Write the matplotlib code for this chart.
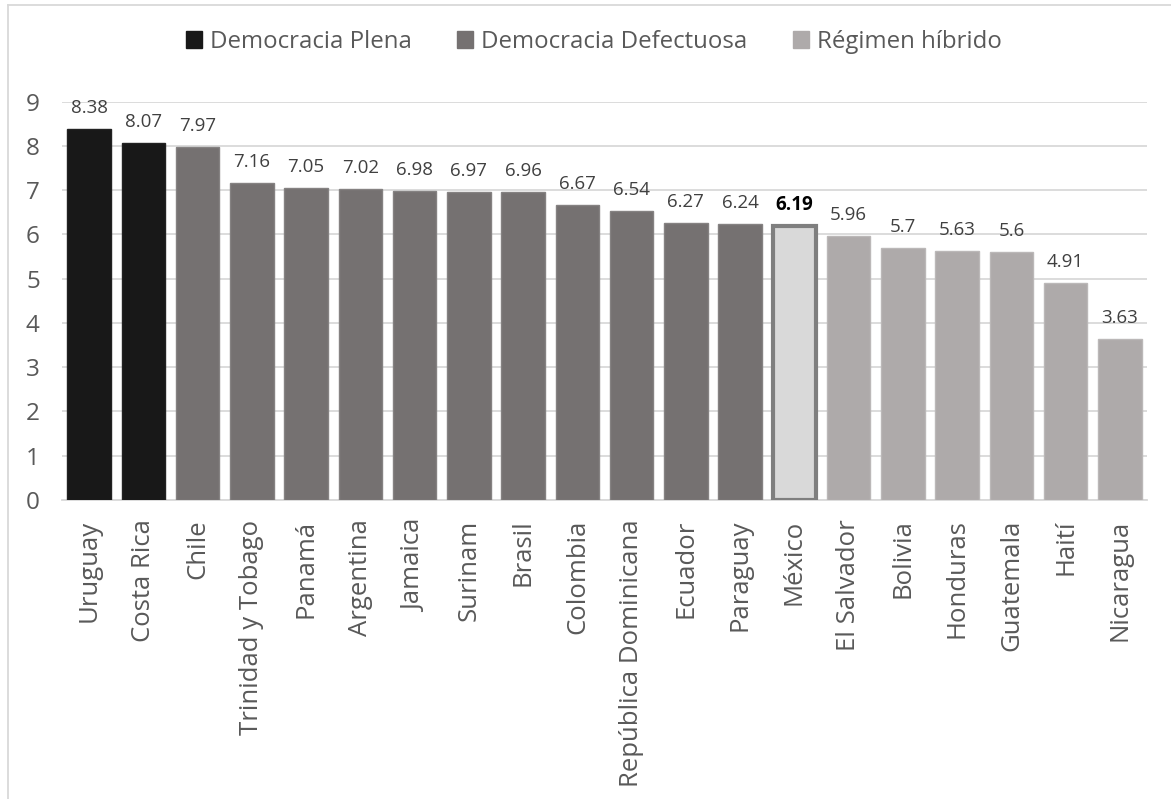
import matplotlib
matplotlib.use("Agg")
import matplotlib.pyplot as plt
import matplotlib.patches as mpatches
from matplotlib.lines import Line2D

plt.rcParams['font.family'] = ['Open Sans', 'DejaVu Sans']

countries = ["Uruguay", "Costa Rica", "Chile", "Trinidad y Tobago", "Panamá",
             "Argentina", "Jamaica", "Surinam", "Brasil", "Colombia",
             "República Dominicana", "Ecuador", "Paraguay", "México",
             "El Salvador", "Bolivia", "Honduras", "Guatemala", "Haití",
             "Nicaragua"]
scores = [8.38, 8.07, 7.97, 7.16, 7.05, 7.02, 6.98, 6.97, 6.96, 6.67,
          6.54, 6.27, 6.24, 6.19, 5.96, 5.7, 5.63, 5.6, 4.91, 3.63]
score_labels = ["8.38", "8.07", "7.97", "7.16", "7.05", "7.02", "6.98", "6.97",
                "6.96", "6.67", "6.54", "6.27", "6.24", "6.19", "5.96", "5.7",
                "5.63", "5.6", "4.91", "3.63"]
regime = ["plena"] * 2 + ["defectuosa"] * 12 + ["hibrido"] * 6
highlight = "México"
legend_labels = {"plena": "Democracia Plena",
                 "defectuosa": "Democracia Defectuosa",
                 "hibrido": "Régimen híbrido"}

fills = {"plena": "#181818", "defectuosa": "#757171", "hibrido": "#AEAAAA"}
edges = {"plena": "#222222", "defectuosa": "#858282", "hibrido": "#BBB8B8"}
text_color = "#595959"

fig = plt.figure(figsize=(11.71, 7.99), dpi=100)
ax = fig.add_axes([62 / 1171, 1 - 500 / 799, (1147 - 62) / 1171, (500 - 101.7) / 799])

x = list(range(len(countries)))
for i, (c, v, r) in enumerate(zip(countries, scores, regime)):
    if c == highlight:
        ax.bar(i, v, width=0.8, color="#D9D9D9", edgecolor="#7F7F7F",
               linewidth=3.0, zorder=3)
    else:
        ax.bar(i, v, width=0.8, color=fills[r], edgecolor=edges[r],
               linewidth=1.0, zorder=3)
    bold = c == highlight
    ax.annotate(score_labels[i], (i, v), xytext=(0, 11.5), textcoords="offset points",
                ha="center", va="baseline", fontsize=13.5,
                color="black" if bold else "#404040",
                fontweight="bold" if bold else "normal")

ax.set_xlim(-0.5, len(countries) - 0.5)
ax.set_ylim(0, 9)
ax.set_yticks(range(10))
ax.set_xticks(x)
ax.set_xticklabels(countries, rotation=90, ha="center", va="top")
ax.tick_params(axis="x", length=0, pad=14, labelsize=18.5, labelcolor=text_color)
ax.tick_params(axis="y", length=0, pad=16, labelsize=17.5, labelcolor=text_color)
ax.grid(axis="y", color="#D9D9D9", linewidth=1.3, zorder=0)
ax.set_axisbelow(True)
for side in ["top", "right", "left"]:
    ax.spines[side].set_visible(False)
ax.spines["bottom"].set_color("#D9D9D9")
ax.spines["bottom"].set_linewidth(1.3)

handles = [mpatches.Patch(facecolor=fills[k], edgecolor=fills[k], label=legend_labels[k])
           for k in ["plena", "defectuosa", "hibrido"]]
fig.legend(handles=handles, loc="center", bbox_to_anchor=(0.507, 1 - 42 / 799),
           ncol=3, frameon=False, fontsize=17.3, labelcolor=text_color,
           handlelength=0.67, handleheight=0.67, handletextpad=0.33,
           columnspacing=1.9)

# chart area border (top and left visible)
fig.add_artist(Line2D([7.5 / 1171, 7.5 / 1171], [0, 1 - 5 / 799],
                      transform=fig.transFigure, color="#D9D9D9", linewidth=1.3))
fig.add_artist(Line2D([7.5 / 1171, 1], [1 - 5 / 799, 1 - 5 / 799],
                      transform=fig.transFigure, color="#D9D9D9", linewidth=1.3))

fig.savefig("out.png", dpi=100, facecolor="white")
